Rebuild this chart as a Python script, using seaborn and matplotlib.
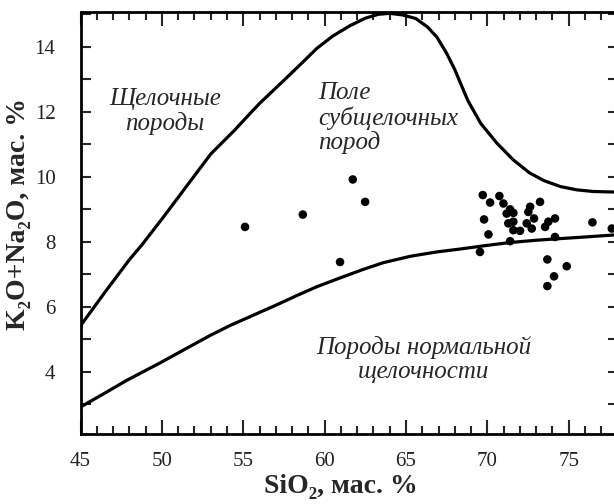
import seaborn as sns
import matplotlib.pyplot as plt
import pandas as pd

sns.set_theme(style="ticks")
plt.rcParams['font.family'] = ['Liberation Serif', 'DejaVu Serif']

# boundary curves
upper_x = [45.0, 46.5, 48.0, 48.76, 50.0, 51.5, 53.0, 54.5, 55.42, 56.03, 57.46, 58.5,
           59.52, 60.5, 61.56, 62.5, 63.3, 64.0, 64.8, 65.6, 66.3, 66.9, 67.5, 68.0,
           68.8, 69.6, 70.6, 71.6, 72.6, 73.5, 74.5, 75.5, 76.5, 78.0]
upper_y = [5.42, 6.45, 7.45, 7.9, 8.7, 9.7, 10.7, 11.45, 11.95, 12.27, 12.95, 13.45,
           13.95, 14.33, 14.65, 14.88, 15.0, 15.03, 14.98, 14.87, 14.62, 14.3, 13.8, 13.3,
           12.35, 11.64, 11.03, 10.52, 10.12, 9.88, 9.7, 9.6, 9.55, 9.53]
lower_x = [45.0, 46.5, 47.84, 49.9, 51.5, 52.96, 54.2, 55.42, 57.0, 58.3, 59.52, 61.0,
           62.3, 63.61, 65.3, 66.89, 68.33, 69.8, 71.4, 73.0, 74.47, 76.0, 78.0]
lower_y = [2.92, 3.35, 3.74, 4.28, 4.72, 5.12, 5.43, 5.7, 6.05, 6.35, 6.62, 6.9,
           7.14, 7.36, 7.56, 7.69, 7.78, 7.88, 7.98, 8.05, 8.1, 8.15, 8.22]

# samples
sio2 = [55.11, 58.66, 60.95, 61.73, 62.49,
        69.72, 70.17, 70.74, 70.99, 71.4, 69.8, 70.07, 71.29, 71.6, 71.6, 72.01,
        71.4, 72.63, 72.52, 72.87, 72.42, 72.73, 73.24, 73.55, 73.75, 74.16, 74.16,
        69.55, 76.46, 77.65, 73.69, 74.88, 74.1, 73.69, 71.19, 71.6]
alk = [8.46, 8.84, 7.38, 9.92, 9.23,
       9.44, 9.21, 9.41, 9.18, 9.0, 8.69, 8.23, 8.57, 8.62, 8.36, 8.34,
       8.02, 9.08, 8.92, 8.72, 8.57, 8.41, 9.23, 8.46, 8.62, 8.72, 8.15,
       7.69, 8.6, 8.41, 7.46, 7.25, 6.94, 6.64, 8.87, 8.89]

df = pd.DataFrame({"x": sio2, "y": alk})

fig = plt.figure(figsize=(6.14, 5.04), dpi=100)
ax = fig.add_axes([80.5 / 614, 1 - 434 / 504, 537 / 614, 422.3 / 504])

sns.lineplot(x=upper_x, y=upper_y, ax=ax, color="black", lw=2.3, estimator=None, sort=False)
sns.lineplot(x=lower_x, y=lower_y, ax=ax, color="black", lw=2.3, estimator=None, sort=False)
sns.scatterplot(data=df, x="x", y="y", ax=ax, color="black", s=38, edgecolor="none", zorder=3)

ax.set_xlim(45, 78)
ax.set_ylim(2.09, 15.08)
ax.set_xticks([45, 50, 55, 60, 65, 70, 75])
ax.set_xticks(range(45, 79), minor=True)
ax.set_yticks([4, 6, 8, 10, 12, 14])
ax.set_yticks(range(3, 16), minor=True)
ax.tick_params(axis="x", which="major", direction="in", length=10, width=1.5,
               top=True, bottom=True, pad=13, labelsize=15, labelcolor="#222222")
ax.tick_params(axis="x", which="minor", direction="in", length=6, width=1.5, top=True, bottom=True)
ax.tick_params(axis="y", which="both", direction="in", length=7, width=1.5,
               left=True, right=True, pad=18, labelsize=15, labelcolor="#222222")
for sp in ax.spines.values():
    sp.set_linewidth(2)
    sp.set_color("black")

ax.set_xlabel("SiO₂, мас. %", fontsize=20, fontweight="bold")
ax.set_ylabel("K₂O+Na₂O, мас. %", fontsize=20, fontweight="bold")
ax.xaxis.set_label_coords(0.485, -0.095)
ax.yaxis.set_label_coords(-0.092, 0.52)

ax.text(50.2, 12.0, "Щелочные\nпороды", ha="center", va="center", style="italic",
        fontsize=18, linespacing=1.1)
ax.text(59.6, 11.8, "Поле\nсубщелочных\nпород", ha="left", va="center", style="italic",
        fontsize=18, linespacing=1.1)
ax.text(66.1, 4.39, "Породы нормальной\nщелочности", ha="center", va="center",
        style="italic", fontsize=18, linespacing=1.1)

fig.savefig("out.png", dpi=100)
